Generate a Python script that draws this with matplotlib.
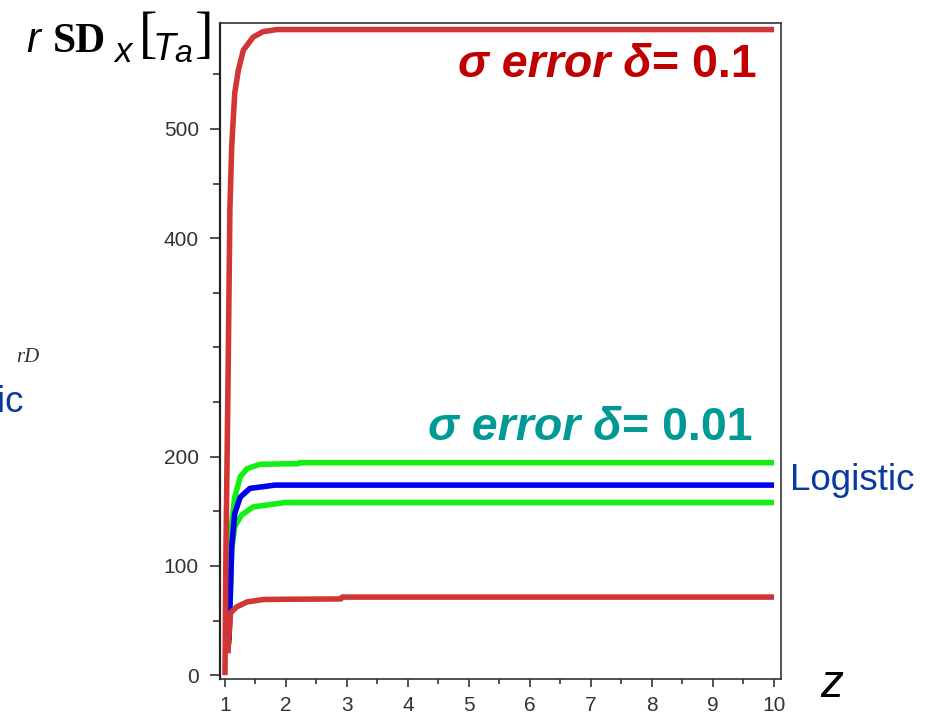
import matplotlib
matplotlib.use("Agg")
import matplotlib.pyplot as plt
from matplotlib.ticker import FixedLocator, NullFormatter

plt.rcParams['font.family'] = ['Liberation Sans', 'DejaVu Sans']

# sigma error curves, delta = 0.1 (upper and lower bound)
z_red_hi = [1.0, 1.016, 1.05, 1.08, 1.11, 1.16, 1.22, 1.30, 1.46, 1.62, 1.85, 10.0]
sd_red_hi = [0, 116, 270, 426, 484, 533, 554, 572, 584, 589, 591, 591]
z_red_lo = [1.05, 1.055, 1.09, 1.19, 1.36, 1.63, 2.0, 2.9, 2.92, 10.0]
sd_red_lo = [20, 27.5, 57, 62.5, 67, 69.3, 69.5, 69.8, 71.5, 71.5]

# sigma error curves, delta = 0.01
z_grn_hi = [1.065, 1.09, 1.11, 1.16, 1.25, 1.36, 1.57, 2.0, 2.2, 2.22, 10.0]
sd_grn_hi = [29, 93, 139, 163, 181.6, 189, 193, 193.5, 193.6, 194.5, 194.5]
z_grn_lo = [1.065, 1.11, 1.16, 1.27, 1.46, 1.98, 10.0]
sd_grn_lo = [29, 114.5, 136, 146.5, 154, 158, 158]

# logistic curve
z_logistic = [1.065, 1.11, 1.16, 1.25, 1.41, 1.82, 10.0]
sd_logistic = [32, 117.5, 148, 163, 171, 174, 174]

x_major = [1, 2, 3, 4, 5, 6, 7, 8, 9, 10]
x_minor = [1.5, 2.5, 3.5, 4.5, 5.5, 6.5, 7.5, 8.5, 9.5]
y_major = [0, 100, 200, 400, 500]
y_minor = [50, 150, 250, 300, 350, 450, 550]

W, H = 929, 718
fig = plt.figure(figsize=(W / 100, H / 100), dpi=100)
ax = fig.add_axes([0.2368, 0.0543, 0.6039, 0.9137])


def px(x, y):
    # pixel position from the top-left corner -> figure fraction
    return x / W, 1 - y / H


lw = 4.0
ax.plot(z_grn_hi, sd_grn_hi, color='#11f011', lw=lw, solid_capstyle='butt')
ax.plot(z_grn_lo, sd_grn_lo, color='#11f011', lw=lw, solid_capstyle='butt')
ax.plot(z_logistic, sd_logistic, color='#0000ee', lw=lw, solid_capstyle='butt')
ax.plot(z_red_lo, sd_red_lo, color='#d13535', lw=lw, solid_capstyle='butt')
ax.plot(z_red_hi, sd_red_hi, color='#d13535', lw=lw, solid_capstyle='butt')

ax.set_xlim(0.918, 10.115)
ax.set_ylim(-3.5, 597)

ax.xaxis.set_major_locator(FixedLocator(x_major))
ax.xaxis.set_minor_locator(FixedLocator(x_minor))
ax.yaxis.set_major_locator(FixedLocator(y_major))
ax.yaxis.set_minor_locator(FixedLocator(y_minor))
ax.yaxis.set_minor_formatter(NullFormatter())

ax.tick_params(axis='y', which='major', length=7.2, width=1.1, pad=8,
               labelsize=15, labelcolor='#333333', color='#222222')
ax.tick_params(axis='y', which='minor', length=4.8, width=1.1, color='#222222')
ax.tick_params(axis='x', which='major', length=6, width=1.1, pad=6.5,
               labelsize=15, labelcolor='#333333', color='#222222')
ax.tick_params(axis='x', which='minor', length=3.6, width=1.1, color='#222222')

for side in ['top', 'right', 'bottom']:
    ax.spines[side].set_linewidth(1.2)
    ax.spines[side].set_color('#333333')
ax.spines['left'].set_linewidth(1.6)
ax.spines['left'].set_color('#222222')

# y label  r SD_x[T_a], built piece by piece
ylab = [
    ('r', 26, 52, dict(fontsize=30, fontstyle='italic')),
    ('SD', 53, 52, dict(fontsize=30, family='Liberation Serif', fontweight='bold')),
    ('x', 114, 62, dict(fontsize=25, fontstyle='italic')),
    ('[', 139, 51, dict(fontsize=40, family='Liberation Serif')),
    ('T', 153, 60, dict(fontsize=27, fontstyle='italic')),
    ('a', 174, 62, dict(fontsize=23, fontstyle='italic')),
    (']', 195, 51, dict(fontsize=40, family='Liberation Serif')),
]
for s, x0, y0, kw in ylab:
    fig.text(*px(x0, y0), s, va='baseline', ha='left', color='black', **kw)

fig.text(*px(820, 697), 'z', fontsize=33, fontstyle='italic',
         va='baseline', ha='left', color='black')

# curve annotations
red_txt = '#c00000'
teal_txt = '#009a96'
t1 = fig.text(*px(458, 77), 'σ error δ', fontsize=33.5, fontweight='bold',
              fontstyle='italic', color=red_txt, va='baseline', ha='left')
ax.annotate('= 0.1', xy=(1, 0), xycoords=t1, va='bottom', ha='left',
            fontsize=33.5, fontweight='bold', color=red_txt, annotation_clip=False)
t2 = fig.text(*px(428, 440), 'σ error δ', fontsize=33.5, fontweight='bold',
              fontstyle='italic', color=teal_txt, va='baseline', ha='left')
ax.annotate('= 0.01', xy=(1, 0), xycoords=t2, va='bottom', ha='left',
            fontsize=33.5, fontweight='bold', color=teal_txt, annotation_clip=False)

fig.text(*px(790, 480), 'Logistic', fontsize=26.5, color='#0a3aa0',
         va='center', ha='left')
fig.text(*px(23, 403), 'Logistic', fontsize=26.5, color='#0a3aa0',
         va='center', ha='right')
fig.text(*px(16, 362), 'rD', fontsize=15, family='Liberation Serif',
         fontstyle='italic', color='#333333', va='baseline', ha='left')

fig.savefig('out.png', dpi=100)
